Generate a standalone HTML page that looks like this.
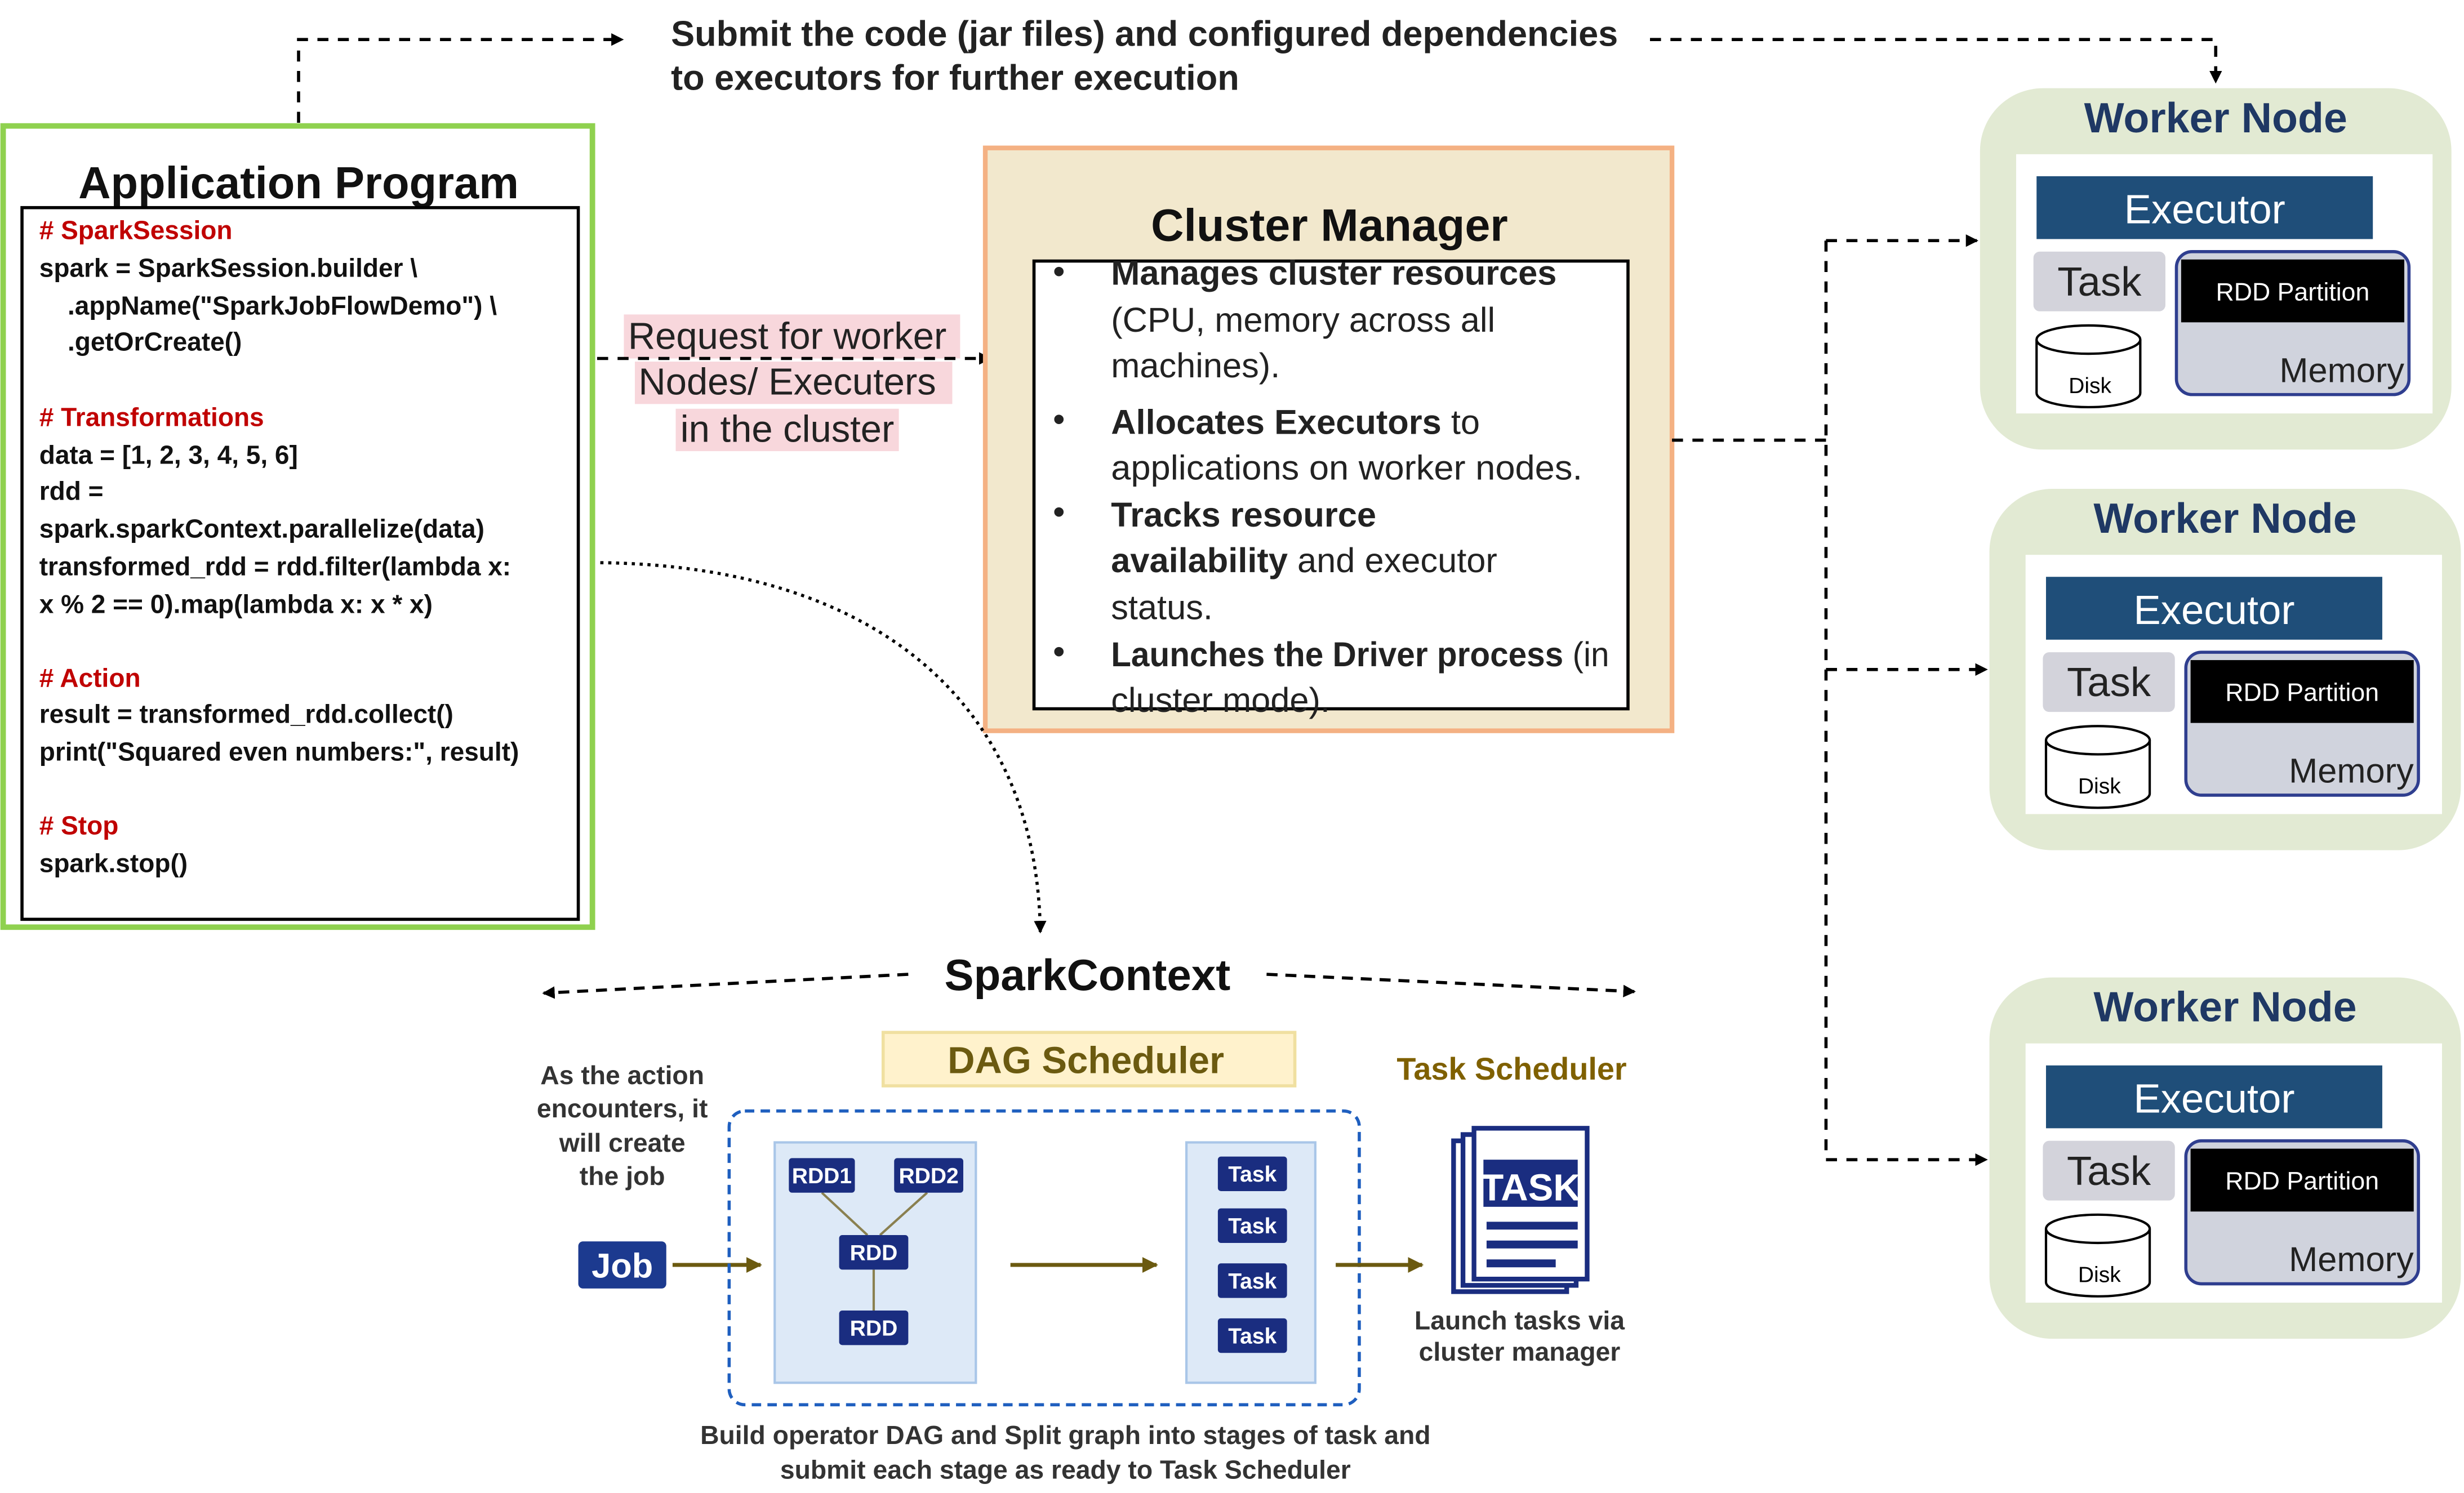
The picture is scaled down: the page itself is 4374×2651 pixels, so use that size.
<!DOCTYPE html>
<html><head><meta charset="utf-8"><style>
html,body{margin:0;padding:0;background:#fff;width:4374px;height:2651px;overflow:hidden}
svg{display:block}
text{font-family:"Liberation Sans","DejaVu Sans",sans-serif}
</style></head><body>
<svg width="4374" height="2651" viewBox="0 0 1568 950" xmlns="http://www.w3.org/2000/svg">
<defs>
<marker id="ah" markerWidth="8" markerHeight="8" refX="7" refY="4" orient="auto" markerUnits="userSpaceOnUse"><path d="M0,0 L8,4 L0,8 z" fill="#000"/></marker>
<marker id="ao" markerWidth="10" markerHeight="10" refX="9" refY="5" orient="auto" markerUnits="userSpaceOnUse"><path d="M0,0 L10,5 L0,10 z" fill="#6b5a10"/></marker>
<g id="worker">
<rect x="0" y="0" width="300" height="230" rx="40" fill="#e2ead3"/>
<text x="150" y="28" text-anchor="middle" font-size="27" font-weight="bold" fill="#1f3864">Worker Node</text>
<rect x="23" y="42" width="265" height="165" fill="#fff"/>
<rect x="36" y="56" width="214" height="40" fill="#1f4e79"/>
<text x="143" y="86" text-anchor="middle" font-size="26" fill="#fff">Executor</text>
<rect x="34" y="104" width="84" height="38" rx="4" fill="#d3d3db"/>
<text x="76" y="132" text-anchor="middle" font-size="26" fill="#222">Task</text>
<rect x="125" y="104" width="148" height="91" rx="10" fill="#d0d3dd" stroke="#2f3e8f" stroke-width="2"/>
<rect x="128" y="109" width="142" height="40" fill="#000"/>
<text x="199" y="135" text-anchor="middle" font-size="16" fill="#fff">RDD Partition</text>
<text x="270" y="187" text-anchor="end" font-size="22" fill="#222">Memory</text>
<path d="M36,160 v34 a33,9 0 0 0 66,0 v-34" fill="#fff" stroke="#000" stroke-width="1.5"/>
<ellipse cx="69" cy="160" rx="33" ry="9" fill="#fff" stroke="#000" stroke-width="1.5"/>
<text x="70" y="194" text-anchor="middle" font-size="14" fill="#000">Disk</text>
</g>
</defs>

<path d="M190,78 V25 H396" fill="none" stroke="#000" stroke-width="2" stroke-dasharray="7,6" marker-end="url(#ah)"/>
<text x="427" y="29" font-size="22.6" font-weight="bold" fill="#222">Submit the code (jar files) and configured dependencies</text>
<text x="427" y="57" font-size="22.6" font-weight="bold" fill="#222">to executors for further execution</text>
<path d="M1050,25 H1410 V52" fill="none" stroke="#000" stroke-width="2" stroke-dasharray="7,6" marker-end="url(#ah)"/>

<rect x="2" y="80" width="375" height="510" fill="#fff" stroke="#8fd14f" stroke-width="3.5"/>
<text x="190" y="126" text-anchor="middle" font-size="28.5" font-weight="bold" fill="#111">Application Program</text>
<rect x="14" y="132" width="354" height="453" fill="#fff" stroke="#000" stroke-width="2"/>
<g font-size="16.5" font-weight="bold" fill="#111">
<text x="25" y="152" fill="#c00000"># SparkSession</text>
<text x="25" y="176">spark = SparkSession.builder \</text>
<text x="43" y="200">.appName("SparkJobFlowDemo") \</text>
<text x="43" y="223">.getOrCreate()</text>
<text x="25" y="271" fill="#c00000"># Transformations</text>
<text x="25" y="295">data = [1, 2, 3, 4, 5, 6]</text>
<text x="25" y="318">rdd =</text>
<text x="25" y="342">spark.sparkContext.parallelize(data)</text>
<text x="25" y="366">transformed_rdd = rdd.filter(lambda x:</text>
<text x="25" y="390">x % 2 == 0).map(lambda x: x * x)</text>
<text x="25" y="437" fill="#c00000"># Action</text>
<text x="25" y="460">result = transformed_rdd.collect()</text>
<text x="25" y="484">print("Squared even numbers:", result)</text>
<text x="25" y="531" fill="#c00000"># Stop</text>
<text x="25" y="555">spark.stop()</text>
</g>

<rect x="397" y="200" width="214" height="28" fill="#f8d7dc"/>
<rect x="404" y="230" width="202" height="27" fill="#f8d7dc"/>
<rect x="430" y="260" width="142" height="27" fill="#f8d7dc"/>
<g font-size="24" fill="#222" text-anchor="middle">
<text x="501" y="222">Request for worker</text>
<text x="501" y="251">Nodes/ Executers</text>
<text x="501" y="281">in the cluster</text>
</g>
<path d="M380,228 H630" fill="none" stroke="#000" stroke-width="2" stroke-dasharray="7,6" marker-end="url(#ah)"/>

<rect x="627" y="94" width="437" height="371" fill="#f2e8cd" stroke="#f4b183" stroke-width="3"/>
<text x="846" y="153" text-anchor="middle" font-size="29" font-weight="bold" fill="#111">Cluster Manager</text>
<rect x="658" y="166" width="378" height="285" fill="#fff" stroke="#000" stroke-width="2"/>
<g font-size="22" fill="#222">
<text x="670" y="180">•</text><text x="707" y="181" font-weight="bold">Manages cluster resources</text>
<text x="707" y="211">(CPU, memory across all</text>
<text x="707" y="240">machines).</text>
<text x="670" y="274">•</text><text x="707" y="276"><tspan font-weight="bold">Allocates Executors</tspan> to</text>
<text x="707" y="305" textLength="300" lengthAdjust="spacingAndGlyphs">applications on worker nodes.</text>
<text x="670" y="333">•</text><text x="707" y="335" font-weight="bold">Tracks resource</text>
<text x="707" y="364"><tspan font-weight="bold">availability</tspan> and executor</text>
<text x="707" y="394">status.</text>
<text x="670" y="422">•</text><text x="707" y="424" textLength="317" lengthAdjust="spacingAndGlyphs"><tspan font-weight="bold">Launches the Driver process</tspan> (in</text>
<text x="707" y="453">cluster mode).</text>
</g>

<g fill="none" stroke="#000" stroke-width="2" stroke-dasharray="7,6">
<path d="M1064,280 H1162"/>
<path d="M1162,153 V738"/>
<path d="M1162,153 H1258" marker-end="url(#ah)"/>
<path d="M1162,426 H1264" marker-end="url(#ah)"/>
<path d="M1162,738 H1264" marker-end="url(#ah)"/>
</g>

<use href="#worker" x="1260" y="56"/>
<use href="#worker" x="1266" y="311"/>
<use href="#worker" x="1266" y="622"/>

<path d="M382,358 C560,360 660,450 662,593" fill="none" stroke="#000" stroke-width="2" stroke-dasharray="2,3" marker-end="url(#ah)"/>

<text x="692" y="630" text-anchor="middle" font-size="28" font-weight="bold" fill="#111">SparkContext</text>
<path d="M578,620 L346,632" fill="none" stroke="#000" stroke-width="2" stroke-dasharray="7,5" marker-end="url(#ah)"/>
<path d="M806,620 L1040,631" fill="none" stroke="#000" stroke-width="2" stroke-dasharray="7,5" marker-end="url(#ah)"/>

<rect x="562" y="657" width="262" height="34" fill="#fff2cc" stroke="#f0e0a0" stroke-width="2"/>
<text x="691" y="683" text-anchor="middle" font-size="24" font-weight="bold" fill="#6b5a10">DAG Scheduler</text>
<text x="962" y="687" text-anchor="middle" font-size="20" font-weight="bold" fill="#7f6000">Task Scheduler</text>

<g font-size="16.6" font-weight="bold" fill="#333" text-anchor="middle">
<text x="396" y="690">As the action</text>
<text x="396" y="711">encounters, it</text>
<text x="396" y="733">will create</text>
<text x="396" y="754">the job</text>
<text x="967" y="846">Launch tasks via</text>
<text x="967" y="866">cluster manager</text>
<text x="678" y="919">Build operator  DAG and Split graph into stages of task and</text>
<text x="678" y="941">submit each stage as ready to Task Scheduler</text>
</g>

<rect x="368" y="790" width="56" height="30" rx="3" fill="#1c3a8f"/>
<text x="396" y="813" text-anchor="middle" font-size="22" font-weight="bold" fill="#fff">Job</text>
<path d="M428,805 H484" stroke="#6b5a10" stroke-width="2.5" marker-end="url(#ao)"/>

<rect x="464" y="707" width="401" height="187" rx="10" fill="none" stroke="#1f5fbf" stroke-width="2" stroke-dasharray="6,4"/>
<rect x="493" y="727" width="128" height="153" fill="#dde9f7" stroke="#a9c6e8" stroke-width="1.5"/>
<g stroke="#8a8050" stroke-width="1.5">
<line x1="523" y1="759" x2="552" y2="786"/><line x1="590" y1="759" x2="560" y2="786"/><line x1="556" y1="808" x2="556" y2="834"/>
</g>
<g fill="#1a2d80">
<rect x="502" y="737" width="42" height="22" rx="2"/><rect x="569" y="737" width="44" height="22" rx="2"/>
<rect x="534" y="786" width="44" height="22" rx="2"/><rect x="534" y="834" width="44" height="22" rx="2"/>
</g>
<g font-size="14" font-weight="bold" fill="#fff" text-anchor="middle">
<text x="523" y="753">RDD1</text><text x="591" y="753">RDD2</text><text x="556" y="802">RDD</text><text x="556" y="850">RDD</text>
</g>
<path d="M643,805 H736" stroke="#6b5a10" stroke-width="2.5" marker-end="url(#ao)"/>
<rect x="755" y="727" width="82" height="153" fill="#dde9f7" stroke="#a9c6e8" stroke-width="1.5"/>
<g fill="#1a2d80">
<rect x="775" y="736" width="44" height="22" rx="2"/><rect x="775" y="769" width="44" height="22" rx="2"/>
<rect x="775" y="804" width="44" height="22" rx="2"/><rect x="775" y="839" width="44" height="22" rx="2"/>
</g>
<g font-size="14" font-weight="bold" fill="#fff" text-anchor="middle">
<text x="797" y="752">Task</text><text x="797" y="785">Task</text><text x="797" y="820">Task</text><text x="797" y="855">Task</text>
</g>
<path d="M850,805 H905" stroke="#6b5a10" stroke-width="2.5" marker-end="url(#ao)"/>

<g stroke="#1a2d80" stroke-width="3" fill="#fff">
<rect x="925" y="726" width="72" height="96"/>
<rect x="931" y="722" width="72" height="96"/>
<rect x="938" y="718" width="72" height="96"/>
</g>
<rect x="944" y="738" width="60" height="30" fill="#1a2d80"/>
<text x="974" y="764" text-anchor="middle" font-size="24" font-weight="bold" fill="#fff">TASK</text>
<g stroke="#1a2d80" stroke-width="5">
<line x1="946" y1="780" x2="1004" y2="780"/><line x1="946" y1="792" x2="1004" y2="792"/><line x1="946" y1="804" x2="990" y2="804"/>
</g>
</svg>
</body></html>
